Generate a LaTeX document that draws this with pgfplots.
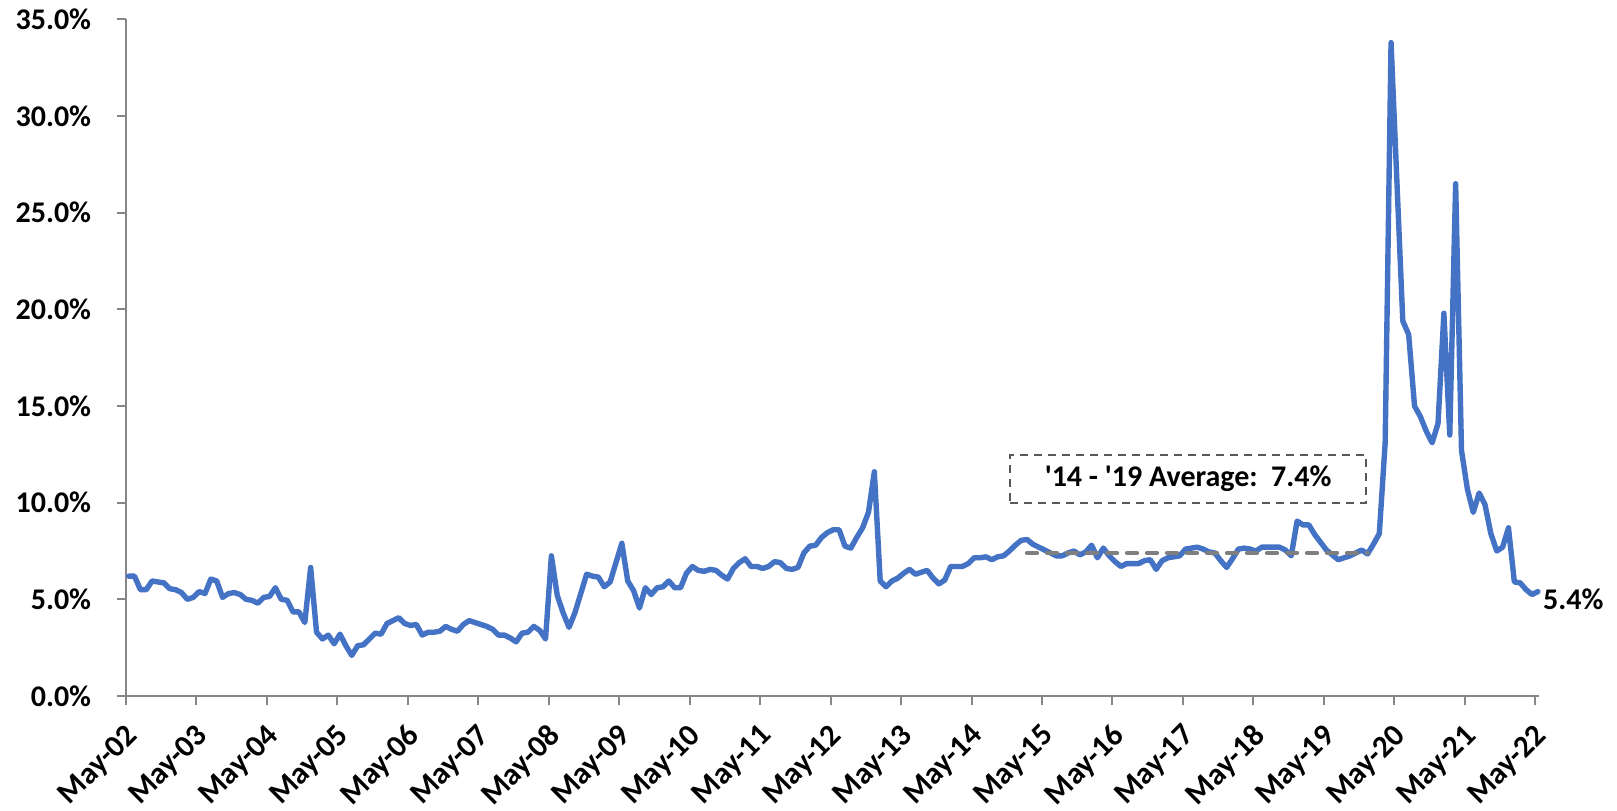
\documentclass[border=0pt]{standalone}
\usepackage{fontspec}
\setmainfont{Carlito}[Ligatures=TeXOff]
\usepackage{pgfplots}
\pgfplotsset{compat=1.18}
\usepackage{pgfplotstable}

\definecolor{seriesblue}{HTML}{4472C4}
\definecolor{axisgray}{HTML}{868686}
\definecolor{avggray}{HTML}{7F7F7F}
\definecolor{boxgray}{HTML}{595959}

% monthly rate, May-02 (m = 0) to May-22 (m = 240), in percent
\pgfplotstableread{
m v
0 6.2
1 6.2
2 5.5
3 5.5
4 5.95
5 5.9
6 5.85
7 5.55
8 5.5
9 5.35
10 5.0
11 5.1
12 5.4
13 5.3
14 6.05
15 5.95
16 5.1
17 5.3
18 5.35
19 5.25
20 5.0
21 4.95
22 4.8
23 5.1
24 5.15
25 5.6
26 5.0
27 4.95
28 4.35
29 4.35
30 3.8
31 6.65
32 3.3
33 2.95
34 3.15
35 2.7
36 3.2
37 2.6
38 2.1
39 2.6
40 2.65
41 2.95
42 3.25
43 3.2
44 3.75
45 3.9
46 4.05
47 3.75
48 3.65
49 3.7
50 3.15
51 3.3
52 3.3
53 3.35
54 3.6
55 3.45
56 3.35
57 3.7
58 3.9
59 3.8
60 3.7
61 3.6
62 3.45
63 3.15
64 3.15
65 3.0
66 2.8
67 3.25
68 3.3
69 3.6
70 3.4
71 2.95
72 7.25
73 5.2
74 4.3
75 3.55
76 4.3
77 5.3
78 6.3
79 6.2
80 6.15
81 5.65
82 5.9
83 6.9
84 7.9
85 5.95
86 5.45
87 4.55
88 5.6
89 5.25
90 5.6
91 5.65
92 5.95
93 5.6
94 5.6
95 6.35
96 6.7
97 6.5
98 6.45
99 6.55
100 6.5
101 6.25
102 6.05
103 6.6
104 6.9
105 7.1
106 6.7
107 6.7
108 6.6
109 6.7
110 6.95
111 6.9
112 6.6
113 6.55
114 6.65
115 7.4
116 7.75
117 7.8
118 8.2
119 8.45
120 8.6
121 8.6
122 7.75
123 7.65
124 8.2
125 8.7
126 9.5
127 11.6
128 5.95
129 5.65
130 5.95
131 6.1
132 6.35
133 6.55
134 6.3
135 6.4
136 6.5
137 6.1
138 5.8
139 6.0
140 6.7
141 6.7
142 6.7
143 6.85
144 7.15
145 7.15
146 7.2
147 7.05
148 7.2
149 7.25
150 7.5
151 7.8
152 8.05
153 8.1
154 7.85
155 7.7
156 7.55
157 7.4
158 7.25
159 7.25
160 7.4
161 7.5
162 7.3
163 7.45
164 7.8
165 7.15
166 7.65
167 7.25
168 6.95
169 6.7
170 6.85
171 6.85
172 6.85
173 7.0
174 7.05
175 6.55
176 7.0
177 7.15
178 7.2
179 7.25
180 7.6
181 7.65
182 7.7
183 7.6
184 7.45
185 7.4
186 7.0
187 6.65
188 7.1
189 7.6
190 7.65
191 7.6
192 7.5
193 7.7
194 7.7
195 7.7
196 7.7
197 7.55
198 7.25
199 9.05
200 8.85
201 8.85
202 8.35
203 7.95
204 7.55
205 7.3
206 7.05
207 7.15
208 7.25
209 7.4
210 7.55
211 7.35
212 7.85
213 8.4
214 13.1
215 33.8
216 26.6
217 19.4
218 18.7
219 15.0
220 14.45
221 13.7
222 13.1
223 14.1
224 19.8
225 13.5
226 26.5
227 12.7
228 10.7
229 9.5
230 10.5
231 9.9
232 8.4
233 7.5
234 7.7
235 8.7
236 5.9
237 5.85
238 5.5
239 5.25
240 5.4
}\ratetable

% 2014-2019 average
\pgfplotstableread{
m v
153 7.4
211 7.4
}\avgtable

\begin{document}
\begin{tikzpicture}
\begin{axis}[
  at={(0,0)}, anchor=south west,
  scale only axis, width=706.5pt, height=338.3pt,
  xmin=-0.45, xmax=240.2, ymin=0, ymax=35,
  axis x line=bottom, axis y line=left,
  axis line style={-, draw=axisgray, line width=1pt},
  tick align=outside, major tick length=4.5pt,
  tick style={draw=axisgray, line width=1pt},
  xtick={-0.45,11.55,23.55,35.55,47.55,59.55,71.55,83.55,95.55,107.55,119.55,131.55,143.55,155.55,167.55,179.55,191.55,203.55,215.55,227.55,239.55},
  xticklabels={May-02,May-03,May-04,May-05,May-06,May-07,May-08,May-09,May-10,May-11,May-12,May-13,May-14,May-15,May-16,May-17,May-18,May-19,May-20,May-21,May-22},
  ytick={0,5,10,15,20,25,30,35},
  yticklabel={\pgfmathprintnumber[fixed,fixed zerofill,precision=1,assume math mode=true]{\tick}\%},
  ticklabel style={font=\fontsize{15}{18}\selectfont\bfseries},
  xticklabel style={font=\fontsize{15.5}{18}\selectfont\bfseries, inner sep=0pt, xshift=-1pt, yshift=-8.5pt, anchor=north east, rotate=45},
  yticklabel style={inner sep=0pt, xshift=-12.75pt, anchor=east},
  clip=false,
]
\addplot[seriesblue, line width=2.7pt, line join=round, line cap=round] table[x=m, y=v] {\ratetable};
\addplot[avggray, line width=2.2pt, line cap=round, dash pattern=on 5pt off 5pt] table[x=m, y=v] {\avgtable};
\node[draw=boxgray, line width=1pt, dash pattern=on 4pt off 3pt, minimum width=178pt, minimum height=24pt, inner sep=0pt,
      font=\fontsize{15}{18}\selectfont\bfseries] at (axis cs:180.45,11.23) {'14 - '19 Average:\ \ 7.4\%};
\node[anchor=west, inner sep=0pt, xshift=2.5pt, yshift=-3.7pt, font=\fontsize{15}{18}\selectfont\bfseries]
      at (axis cs:240,5.4) {5.4\%};
\end{axis}
\pgfresetboundingbox
\path (-63pt,-57pt) rectangle (745.5pt,348pt);
\end{tikzpicture}
\end{document}
